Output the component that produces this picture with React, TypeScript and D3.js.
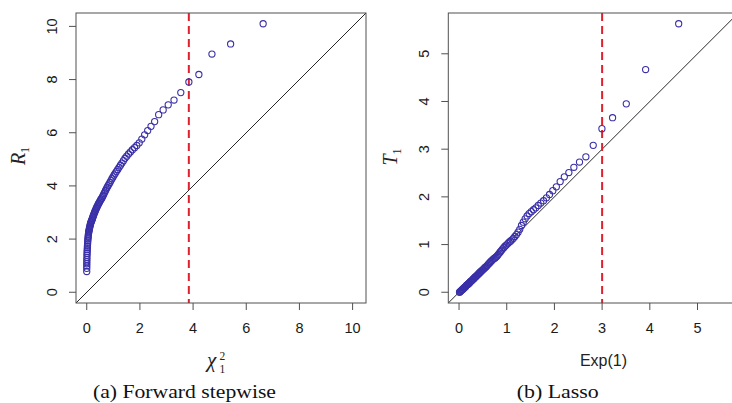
import * as d3 from 'd3'

// theoretical quantiles, p = 0.01 ... 0.99
const chiQuant = [
  0.0002, 0.0006, 0.0014, 0.0025, 0.0039, 0.0057, 0.0077, 0.0101, 0.0128, 0.0158,
  0.0191, 0.0228, 0.0268, 0.0311, 0.0358, 0.0408, 0.0461, 0.0518, 0.0578, 0.0642,
  0.0709, 0.078, 0.0855, 0.0933, 0.1015, 0.1102, 0.1191, 0.1285, 0.1383, 0.1485,
  0.1591, 0.1702, 0.1816, 0.1935, 0.2059, 0.2187, 0.232, 0.2459, 0.2602, 0.275,
  0.2903, 0.3062, 0.3227, 0.3397, 0.3573, 0.3755, 0.3944, 0.4138, 0.434, 0.4549,
  0.4765, 0.4989, 0.522, 0.5458, 0.5706, 0.5963, 0.6228, 0.6503, 0.6788, 0.7083,
  0.7389, 0.7707, 0.8037, 0.838, 0.8735, 0.9105, 0.9489, 0.989, 1.0306, 1.0742,
  1.1196, 1.1671, 1.2168, 1.2688, 1.3233, 1.3806, 1.441, 1.5043, 1.5715, 1.6424,
  1.7177, 1.7977, 1.8829, 1.9742, 2.0722, 2.178, 2.2925, 2.4173, 2.5542, 2.7055,
  2.8744, 3.0649, 3.283, 3.5374, 3.8415, 4.2179, 4.7093, 5.4119, 6.6349
]

// observed R1 quantiles (forward stepwise)
const r1Values = [
  0.78, 0.9, 0.99, 1.07, 1.15, 1.23, 1.31, 1.39, 1.46, 1.53,
  1.6, 1.67, 1.74, 1.81, 1.88, 1.95, 2.01, 2.07, 2.13, 2.19,
  2.24, 2.28, 2.32, 2.36, 2.4, 2.44, 2.48, 2.52, 2.56, 2.6,
  2.63, 2.66, 2.69, 2.72, 2.75, 2.79, 2.83, 2.87, 2.91, 2.95,
  2.99, 3.03, 3.07, 3.11, 3.15, 3.19, 3.23, 3.27, 3.31, 3.35,
  3.39, 3.43, 3.47, 3.51, 3.55, 3.6, 3.65, 3.71, 3.77, 3.83,
  3.89, 3.95, 4.01, 4.07, 4.13, 4.2, 4.27, 4.34, 4.41, 4.48,
  4.55, 4.62, 4.7, 4.78, 4.86, 4.95, 5.04, 5.12, 5.2, 5.28,
  5.36, 5.44, 5.52, 5.62, 5.76, 5.92, 6.08, 6.24, 6.42, 6.68,
  6.86, 7.05, 7.23, 7.51, 7.91, 8.19, 8.96, 9.34, 10.1
]

const expQuant = [
  0.0101, 0.0202, 0.0305, 0.0408, 0.0513, 0.0619, 0.0726, 0.0834, 0.0943, 0.1054,
  0.1165, 0.1278, 0.1393, 0.1508, 0.1625, 0.1744, 0.1863, 0.1985, 0.2107, 0.2231,
  0.2357, 0.2485, 0.2614, 0.2744, 0.2877, 0.3011, 0.3147, 0.3285, 0.3425, 0.3567,
  0.3711, 0.3857, 0.4005, 0.4155, 0.4308, 0.4463, 0.462, 0.478, 0.4943, 0.5108,
  0.5276, 0.5447, 0.5621, 0.5798, 0.5978, 0.6162, 0.6349, 0.6539, 0.6733, 0.6931,
  0.7133, 0.734, 0.755, 0.7765, 0.7985, 0.821, 0.844, 0.8675, 0.8916, 0.9163,
  0.9416, 0.9676, 0.9943, 1.0217, 1.0498, 1.0788, 1.1087, 1.1394, 1.1712, 1.204,
  1.2379, 1.273, 1.3093, 1.3471, 1.3863, 1.4271, 1.4697, 1.5141, 1.5606, 1.6094,
  1.6607, 1.7148, 1.772, 1.8326, 1.8971, 1.9661, 2.0402, 2.1203, 2.2073, 2.3026,
  2.4079, 2.5257, 2.6593, 2.8134, 2.9957, 3.2189, 3.5066, 3.912, 4.6052
]

// observed T1 quantiles (lasso)
const t1Values = [
  0.0, 0.01, 0.02, 0.03, 0.04, 0.05, 0.06, 0.07, 0.08, 0.09,
  0.1, 0.11, 0.12, 0.14, 0.15, 0.16, 0.17, 0.18, 0.19, 0.2,
  0.22, 0.23, 0.24, 0.25, 0.27, 0.28, 0.29, 0.31, 0.32, 0.33,
  0.35, 0.36, 0.38, 0.39, 0.41, 0.42, 0.44, 0.45, 0.47, 0.48,
  0.5, 0.52, 0.53, 0.55, 0.57, 0.59, 0.61, 0.63, 0.65, 0.67,
  0.69, 0.71, 0.72, 0.74, 0.76, 0.79, 0.82, 0.85, 0.88, 0.91,
  0.94, 0.97, 0.99, 1.02, 1.05, 1.07, 1.1, 1.13, 1.17, 1.21,
  1.26, 1.32, 1.4, 1.47, 1.54, 1.6, 1.65, 1.69, 1.73, 1.77,
  1.82, 1.87, 1.92, 1.98, 2.05, 2.13, 2.21, 2.32, 2.42, 2.51,
  2.62, 2.73, 2.84, 3.08, 3.43, 3.66, 3.95, 4.67, 5.63
]

const leftTicks = [0, 2, 4, 6, 8, 10]
const rightTicks = [0, 1, 2, 3, 4, 5]
const chiCutoff = 3.84
const expCutoff = 3.0

const pointColor = '#3a30a8'
const boxColor = '#505050'
const sans = 'Liberation Sans, Arial, sans-serif'
const serif = 'Liberation Serif, Times New Roman, serif'

type PanelProps = {
  id: string
  left: number
  xs: number[]
  ys: number[]
  ticks: number[]
  cutoff: number
}

function Panel({ id, left, xs, ys, ticks, cutoff }: PanelProps) {
  const size = 290
  const top = 13
  const m = Math.max(d3.max(xs) as number, d3.max(ys) as number)
  const lim: [number, number] = [-0.04 * m, 1.04 * m]
  const x = d3.scaleLinear().domain(lim).range([left, left + size])
  const y = d3.scaleLinear().domain(lim).range([top + size, top])
  const bottom = top + size

  return (
    <g>
      <defs>
        <clipPath id={id}>
          <rect x={left} y={top} width={size} height={size} />
        </clipPath>
      </defs>
      <g clipPath={`url(#${id})`}>
        <line x1={x(lim[0])} y1={y(lim[0])} x2={x(lim[1])} y2={y(lim[1])}
          stroke="#111" strokeWidth={0.9} />
        <line x1={x(cutoff)} x2={x(cutoff)} y1={top} y2={bottom}
          stroke="#e0202c" strokeWidth={2} strokeDasharray="8,5" />
        {xs.map((v, i) => (
          <circle key={i} cx={x(v)} cy={y(ys[i])} r={3.1}
            fill="none" stroke={pointColor} strokeWidth={1.1} />
        ))}
      </g>
      <rect x={left} y={top} width={size} height={size} fill="none" stroke={boxColor} strokeWidth={1} />
      {ticks.map(t => (
        <g key={'x' + t}>
          <line x1={x(t)} x2={x(t)} y1={bottom} y2={bottom + 7} stroke={boxColor} />
          <text x={x(t)} y={bottom + 25} dy="0.35em" textAnchor="middle"
            fontFamily={sans} fontSize={14.5} fill="#1a1a1a">{t}</text>
        </g>
      ))}
      {ticks.map(t => (
        <g key={'y' + t}>
          <line x1={left} x2={left - 7} y1={y(t)} y2={y(t)} stroke={boxColor} />
          <text x={left - 24.5} y={y(t)} dy="0.35em" textAnchor="middle"
            transform={`rotate(-90, ${left - 24.5}, ${y(t)})`}
            fontFamily={sans} fontSize={14.5} fill="#1a1a1a">{t}</text>
        </g>
      ))}
    </g>
  )
}

export default function App() {
  return (
    <svg width={732} height={403} style={{ position: 'fixed', left: 0, top: 0, background: '#fff' }}>
      <rect width={732} height={403} fill="#fff" />
      <Panel id="clipA" left={76} xs={chiQuant} ys={r1Values} ticks={leftTicks} cutoff={chiCutoff} />
      <Panel id="clipB" left={448.3} xs={expQuant} ys={t1Values} ticks={rightTicks} cutoff={expCutoff} />

      {/* axis titles, left panel */}
      <text x={207} y={367} fontFamily={serif} fontStyle="italic" fontSize={21} fill="#222">χ</text>
      <text x={219.5} y={360} fontFamily={serif} fontSize={11.5} fill="#222">2</text>
      <text x={219.5} y={373} fontFamily={serif} fontSize={11.5} fill="#222">1</text>
      <text transform="rotate(-90, 25, 156)" x={25} y={156} textAnchor="middle"
        fontFamily={serif} fontStyle="italic" fontSize={20} fill="#222">
        R<tspan fontStyle="normal" fontSize={12} dy={4}>1</tspan>
      </text>

      {/* axis titles, right panel */}
      <text x={603.5} y={366} textAnchor="middle" fontFamily={sans}
        fontSize={16} fill="#222">Exp(1)</text>
      <text transform="rotate(-90, 397, 157)" x={397} y={157} textAnchor="middle"
        fontFamily={serif} fontStyle="italic" fontSize={20} fill="#222">
        T<tspan fontStyle="normal" fontSize={12} dy={4}>1</tspan>
      </text>

      {/* sub-figure captions */}
      <text x={93} y={398} textLength={183} lengthAdjust="spacingAndGlyphs"
        fontFamily={serif} fontSize={19} fill="#111">(a) Forward stepwise</text>
      <text x={516.7} y={398} textLength={82} lengthAdjust="spacingAndGlyphs"
        fontFamily={serif} fontSize={19} fill="#111">(b) Lasso</text>
    </svg>
  )
}
